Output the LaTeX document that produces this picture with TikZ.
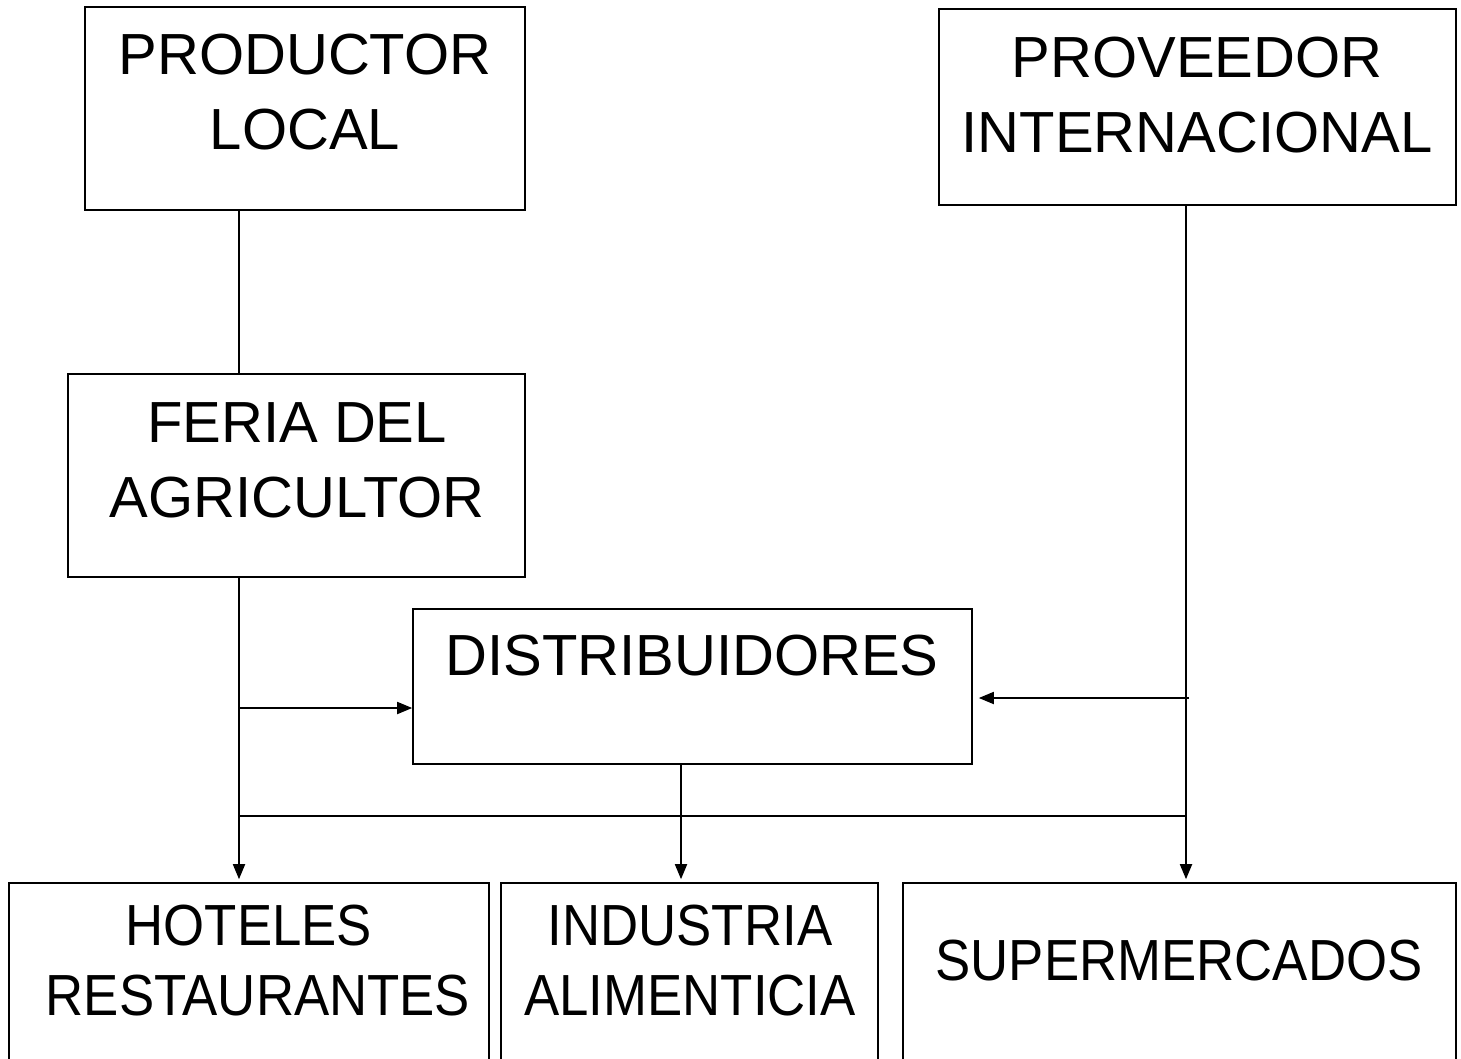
\documentclass[tikz,border=0pt]{standalone}
\usepackage{fontspec}
\setmainfont{Liberation Sans}
\usetikzlibrary{arrows.meta}
\newcommand{\narrowtxt}[1]{\scalebox{0.91}[1]{#1}}
\begin{document}
\begin{tikzpicture}[x=1pt,y=-1pt,
  box/.style={draw=black,line width=1.6pt,inner sep=0pt,fill=white},
  lbl/.style={anchor=base,inner sep=0pt,font=\fontsize{58}{75}\selectfont},
  conn/.style={draw=black,line width=1.8pt},
  arr/.style={conn,-{Triangle[length=15pt,width=12pt]}}]
\useasboundingbox (0,0) rectangle (1461,1059);
% boxes
\node[box,minimum width=440pt,minimum height=203pt] (prod) at (305,108.5) {};
\node[box,minimum width=517pt,minimum height=196pt] (prov) at (1197.5,107) {};
\node[box,minimum width=457pt,minimum height=203pt] (feria) at (296.5,475.5) {};
\node[box,minimum width=559pt,minimum height=155pt] (dist) at (692.5,686.5) {};
\node[box,minimum width=480pt,minimum height=240pt] (hot) at (249,1003) {};
\node[box,minimum width=377pt,minimum height=240pt] (ind) at (689.5,1003) {};
\node[box,minimum width=553pt,minimum height=240pt] (sup) at (1179.5,1003) {};
% labels
\node[lbl] (prodt1) at (305,75) {PRODUCTOR};
\node[lbl] (prodt2) at (305,150) {LOCAL};
\node[lbl] (provt1) at (1197,78) {PROVEEDOR};
\node[lbl] (provt2) at (1197,153) {INTERNACIONAL};
\node[lbl] (feriat1) at (297,442) {FERIA DEL};
\node[lbl] (feriat2) at (297,517) {AGRICULTOR};
\node[lbl] (distt) at (692,675) {DISTRIBUIDORES};
\node[lbl] (hott1) at (249,945) {\narrowtxt{HOTELES}};
\node[lbl] (hott2) at (258,1015) {\narrowtxt{RESTAURANTES}};
\node[lbl] (indt1) at (690,945) {\narrowtxt{INDUSTRIA}};
\node[lbl] (indt2) at (690,1015) {\narrowtxt{ALIMENTICIA}};
\node[lbl] (supt) at (1179,980) {\narrowtxt{SUPERMERCADOS}};
% helper coordinates
\coordinate (xL) at (239,0);
\coordinate (xR) at (1186,0);
\coordinate (xM) at (681,0);
\coordinate (yA) at (0,708);
\coordinate (yB) at (0,698);
\coordinate (yH) at (0,816);
\coordinate (pR) at (1189,698);
% connectors
\draw[conn] (prod.south -| xL) -- (feria.north -| xL);
\draw[arr] (feria.south -| xL) -- ([yshift=3pt]hot.north -| xL);
\draw[arr] (yA -| xL) -- (yA -| dist.west);
\draw[arr] (prov.south -| xR) -- ([yshift=3pt]sup.north -| xR);
\draw[arr] (pR) -- ([xshift=6pt]yB -| dist.east);
\draw[arr] (dist.south -| xM) -- ([yshift=3pt]ind.north -| xM);
\draw[conn] (yH -| xL) -- (yH -| xR);
\end{tikzpicture}
\end{document}
